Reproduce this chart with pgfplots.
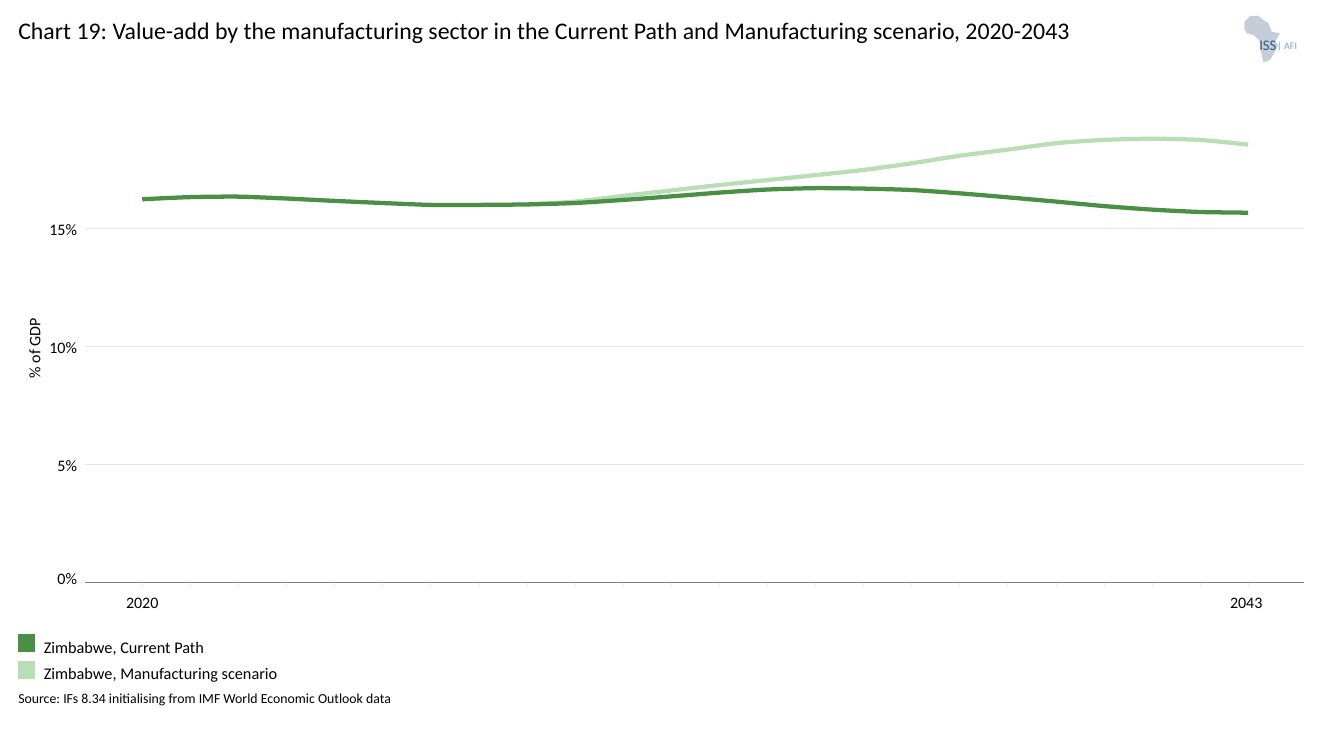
\documentclass[border=0pt]{standalone}
\usepackage{fontspec}
\setmainfont{Carlito}
\usepackage{pgfplots}
\pgfplotsset{compat=1.18}
\frenchspacing

\definecolor{cpgreen}{HTML}{4A9044}
\definecolor{mfgreen}{HTML}{B9DEB5}
\definecolor{gridgrey}{HTML}{E6E6E6}
\definecolor{tickgrey}{HTML}{EFEFEF}
\definecolor{axisgrey}{HTML}{808080}
\definecolor{logogrey}{HTML}{C5CDD8}
\definecolor{issblue}{HTML}{2F5C85}
\definecolor{afiblue}{HTML}{6AA6D6}

\begin{document}
\begin{tikzpicture}[x=0.75pt,y=-0.75pt]
\path[use as bounding box] (0,0) rectangle (1318,729);

\begin{axis}[
    at={(63.75pt,-436.875pt)}, anchor=south west,
    scale only axis,
    width=914.25pt, height=354.45pt,
    xmin=2018.81, xmax=2044.16,
    ymin=0, ymax=20,
    axis x line*=bottom, axis y line*=left,
    x axis line style={draw=axisgrey,line width=0.75pt,-},
    y axis line style={draw=none},
    ytick={0,5,10,15},
    yticklabels={\raisebox{8pt}{0\%},5\%,10\%,15\%},
    ymajorgrids,
    grid style={gridgrey,line width=0.6pt},
    ytick style={draw=none},
    xtick={2020,2021,...,2043},
    xticklabels={2020,,,,,,,,,,,,,,,,,,,,,,,2043\kern3pt},
    xtick style={draw=tickgrey,line width=0.5pt},
    major tick length=3.5pt,
    tick align=outside,
    tick label style={font=\fontsize{12pt}{13pt}\selectfont,text=black},
    xticklabel style={yshift=-5pt},
    yticklabel style={xshift=1pt,yshift=-1.6pt},
    ylabel={\% of GDP},
    ylabel style={font=\fontsize{12pt}{13pt}\selectfont,
        at={(axis description cs:-0.041,0.496)},anchor=center},
    legend image code/.code={
        \fill[#1,draw=none] (0.7pt,-2.9pt) rectangle (13.5pt,10.6pt);
        \path (16.5pt,0pt);},
    legend cell align=left,
    legend style={draw=none,fill=none,inner sep=0pt,outer sep=0pt,
        at={(axis description cs:-0.055,-0.110)},anchor=north west,
        font=\fontsize{12.2pt}{13pt}\selectfont,
        row sep=2pt},
]
\addplot[forget plot,mfgreen,line width=3.2pt,smooth,tension=0.4] coordinates {
(2028,16.00) (2029,16.12) (2030,16.36) (2031,16.59) (2032,16.82) (2033,17.03)
(2034,17.24) (2035,17.46) (2036,17.74) (2037,18.06) (2038,18.32) (2039,18.59)
(2040,18.73) (2041,18.78) (2042,18.73) (2043,18.53)};
\addplot[cpgreen,line width=3.2pt,smooth,tension=0.4] coordinates {
(2020,16.22) (2021,16.31) (2022,16.33) (2023,16.25) (2024,16.15) (2025,16.06)
(2026,15.98) (2027,15.98) (2028,16.00) (2029,16.06) (2030,16.19) (2031,16.34)
(2032,16.50) (2033,16.63) (2034,16.69) (2035,16.67) (2036,16.61) (2037,16.47)
(2038,16.30) (2039,16.12) (2040,15.93) (2041,15.78) (2042,15.68) (2043,15.65)};
\addlegendentry{Zimbabwe, Current Path}
\addlegendimage{mfgreen}
\addlegendentry{Zimbabwe, Manufacturing scenario}
\end{axis}

\node[anchor=base west,inner sep=0pt,font=\fontsize{17.87pt}{20pt}\selectfont] at (18,39)
    {Chart 19: Value-add by the manufacturing sector in the Current Path and Manufacturing scenario, 2020-2043};
\node[anchor=base west,inner sep=0pt,font=\fontsize{10.35pt}{11pt}\selectfont] at (18,703)
    {Source: IFs 8.34 initialising from IMF World Economic Outlook data};

% logo
\fill[logogrey] (1244.3,21.7) -- (1250,16) -- (1258.3,15.7) -- (1263.3,20) -- (1268.3,22.7)
    -- (1271.7,31.7) -- (1280,33.3) -- (1275,41.7) -- (1278.3,45) -- (1276,50)
    -- (1270,60) -- (1263.3,62.3) -- (1260.7,50) -- (1259.3,40) -- (1253.3,35)
    -- (1246.7,33.3) -- (1244.3,28.3) -- cycle;
\node[anchor=base west,inner sep=0pt,text=issblue,font=\fontsize{11pt}{13pt}\selectfont] at (1259,50) {ISS};
\node[anchor=base west,inner sep=0pt,text=afiblue,font=\fontsize{7.5pt}{10pt}\selectfont] at (1277,49) {| AFI};
\end{tikzpicture}
\end{document}
